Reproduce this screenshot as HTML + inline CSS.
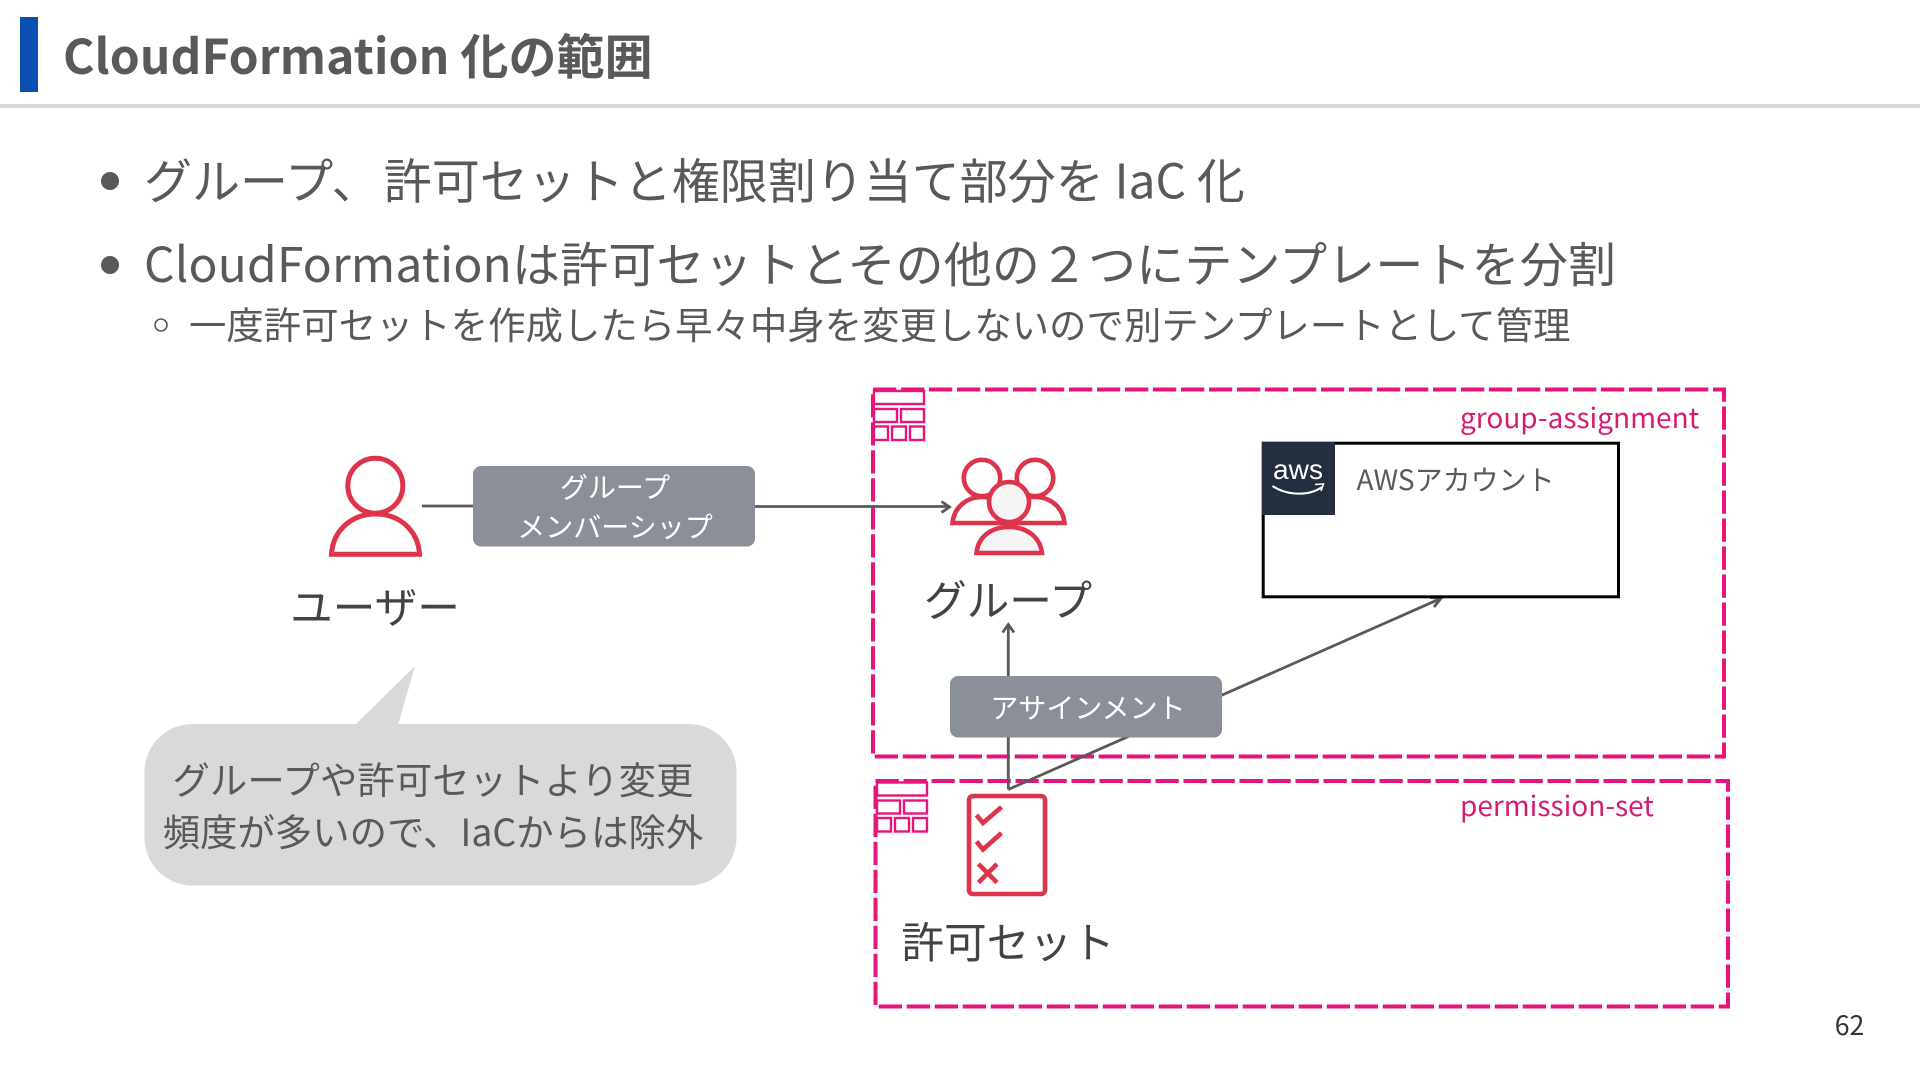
<!DOCTYPE html>
<html lang="ja">
<head>
<meta charset="utf-8">
<title>CloudFormation 化の範囲</title>
<style>
html,body{margin:0;padding:0;background:#fff;width:1920px;height:1080px;overflow:hidden}
svg{display:block}
text{font-family:"Noto Sans CJK JP","Liberation Sans",sans-serif}
</style>
</head>
<body>
<svg width="1920" height="1080" viewBox="0 0 1920 1080" xmlns="http://www.w3.org/2000/svg">
<rect width="1920" height="1080" fill="#fff"/>
<!-- header -->
<rect x="20" y="17" width="18" height="75" fill="#0b50b0"/>
<rect x="0" y="104" width="1920" height="4" fill="#d9d9d9"/>
<text x="63" y="74" font-size="48" font-weight="700" fill="#595959" letter-spacing="0.06">CloudFormation 化の範囲</text>
<!-- bullets -->
<circle cx="110" cy="181" r="9" fill="#595959"/>
<text x="144" y="198.5" font-size="48" font-weight="400" fill="#595959">グループ、<tspan dx="4">許可セットと権限割り当て部分を IaC 化</tspan></text>
<circle cx="110" cy="265" r="9" fill="#595959"/>
<text x="144" y="282" font-size="48" font-weight="400" fill="#595959" letter-spacing="0.13">CloudFormationは許可セットとその他の２つにテンプレートを分割</text>
<circle cx="161" cy="325" r="6" fill="none" stroke="#595959" stroke-width="1.6"/>
<text x="189" y="339" font-size="37.33" font-weight="400" fill="#595959" letter-spacing="0.07">一度許可セットを作成したら早々中身を変更しないので別テンプレートとして管理</text>
<!-- group boxes -->
<rect x="873" y="389.5" width="851" height="367" fill="none" stroke="#e7157b" stroke-width="4" stroke-dasharray="23.3 4.7"/>
<rect x="875.5" y="781" width="852.5" height="225.5" fill="none" stroke="#e7157b" stroke-width="4" stroke-dasharray="23.3 4.7"/>
<g fill="#fff" stroke="#e7157b" stroke-width="2.4">
<rect x="874" y="391" width="50" height="13"/>
<rect x="874" y="409" width="23" height="13"/><rect x="901" y="409" width="23" height="13"/>
<rect x="874" y="426.5" width="14" height="13.5"/><rect x="892" y="426.5" width="14" height="13.5"/><rect x="910" y="426.5" width="14" height="13.5"/>
<rect x="877" y="782.5" width="50" height="13"/>
<rect x="877" y="800.5" width="23" height="13"/><rect x="904" y="800.5" width="23" height="13"/>
<rect x="877" y="818" width="14" height="13.5"/><rect x="895" y="818" width="14" height="13.5"/><rect x="913" y="818" width="14" height="13.5"/>
</g>
<text x="1460" y="428" font-size="28" font-weight="400" fill="#d81b72">group-assignment</text>
<text x="1460" y="816" font-size="28" font-weight="400" fill="#d81b72">permission-set</text>
<!-- connectors -->
<g fill="none" stroke="#595959" stroke-width="2.8">
<path d="M422 506H473"/>
<path d="M755 506.5H949"/>
<path d="M941.5 501.5L949.5 507L941.5 512.5"/>
<path d="M1008.3 789.5V625"/>
<path d="M1002.6 632.5L1008.3 624.5L1014 632.5"/>
<path d="M1008.3 789.5L1440 598.8"/>
<path d="M1430 597.5L1441 598.3L1434 607"/>
</g>
<!-- label boxes -->
<rect x="473" y="466" width="282" height="80.5" rx="8" fill="#8a8f98"/>
<text x="615" y="497.5" font-size="28" fill="#fff" text-anchor="middle">グループ</text>
<text x="615" y="537" font-size="28" fill="#fff" text-anchor="middle">メンバーシップ</text>
<rect x="950" y="676" width="272" height="61.5" rx="8" fill="#8a8f98"/>
<text x="1088" y="718" font-size="28" fill="#fff" text-anchor="middle">アサインメント</text>
<!-- user icon -->
<g fill="#fff" stroke="#dd344c" stroke-width="5">
<path d="M331.5 554.2C333 530 352 514 375.5 514C399 514 418 530 419.5 554.2Z"/>
<circle cx="375.3" cy="485.7" r="27.5"/>
</g>
<text x="375" y="623" font-size="42.67" fill="#434343" text-anchor="middle">ユーザー</text>
<!-- group icon -->
<g stroke="#dd344c" stroke-width="4.6">
<circle cx="982" cy="478" r="18.2" fill="#fff"/>
<circle cx="1035" cy="478" r="18.2" fill="#fff"/>
<path d="M952.5 523C954 507 967 497 982 497C997 497 1006 507 1008 523Z" fill="#fff"/>
<path d="M1064.5 523C1063 507 1050 497 1035 497C1020 497 1011 507 1008 523Z" fill="#fff"/>
<circle cx="1009" cy="502" r="20" fill="#f5f5f5"/>
<path d="M976.5 553C978 537 991 527 1009 527C1027 527 1040 537 1042 553Z" fill="#f5f5f5"/>
</g>
<text x="1008" y="616" font-size="42.67" fill="#434343" text-anchor="middle">グループ</text>
<!-- aws account -->
<rect x="1263.2" y="443.2" width="355.3" height="153.6" fill="#fff" stroke="#000" stroke-width="3"/>
<rect x="1262" y="442" width="73" height="73" fill="#232f3e"/>
<text x="1298" y="479" font-size="28" fill="#fff" text-anchor="middle" textLength="50" lengthAdjust="spacingAndGlyphs" style="font-family:'Liberation Sans',sans-serif">aws</text>
<path d="M1272.5 486C1286 495 1308 497 1322 487" fill="none" stroke="#fff" stroke-width="2"/>
<path d="M1315 484.5L1323.5 484L1321 491" fill="none" stroke="#fff" stroke-width="1.6"/>
<text x="1356.5" y="490" font-size="28" font-weight="400" fill="#595959">AWSアカウント</text>
<!-- permission icon -->
<rect x="969" y="796" width="76" height="98" rx="4" fill="#fff" stroke="#dd344c" stroke-width="4.6"/>
<g fill="none" stroke="#dd344c" stroke-width="4.6">
<path d="M976.5 815L983 823L1001.5 807"/>
<path d="M976.5 841.5L983 849.5L1001.5 833"/>
<path d="M978.5 864L997 882.5M997 864L978.5 882.5"/>
</g>
<text x="1008" y="958" font-size="42.67" fill="#434343" text-anchor="middle">許可セット</text>
<!-- callout -->
<path d="M355 725L415 666L398 725Z" fill="#d9d9d9"/>
<rect x="144.5" y="724" width="592" height="161.5" rx="48" fill="#d9d9d9"/>
<text x="433" y="794" font-size="37.33" fill="#595959" text-anchor="middle" letter-spacing="0.1">グループや許可セットより変更</text>
<text x="433" y="846" font-size="37.33" fill="#595959" text-anchor="middle" letter-spacing="0.06">頻度が多いので、IaCからは除外</text>
<!-- page number -->
<text x="1849.5" y="1035" font-size="26.67" fill="#333" text-anchor="middle">62</text>
</svg>
</body>
</html>
